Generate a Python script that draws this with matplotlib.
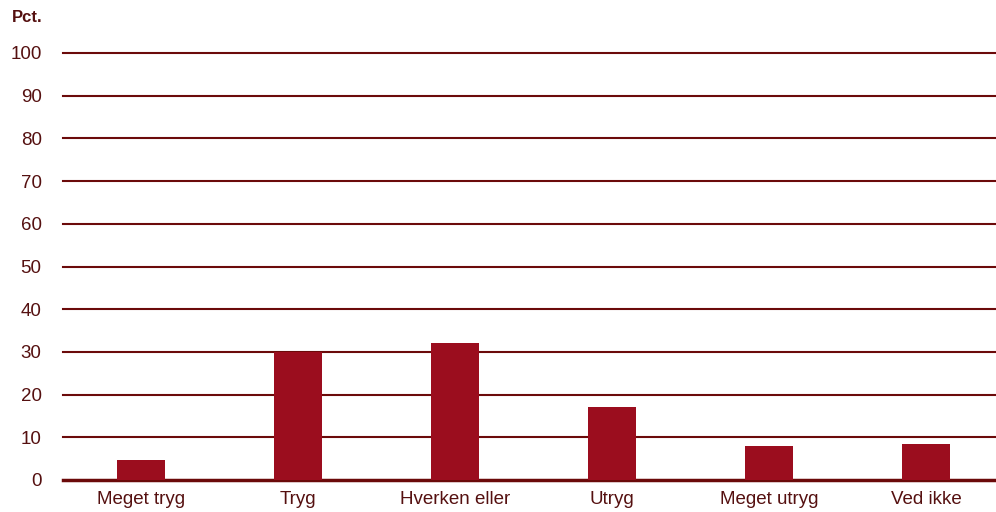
import matplotlib.pyplot as plt

categories = ['Meget tryg', 'Tryg', 'Hverken eller', 'Utryg', 'Meget utryg', 'Ved ikke']
values = [4.7, 30.0, 32.2, 17.2, 8.0, 8.4]
yticks = [0, 10, 20, 30, 40, 50, 60, 70, 80, 90, 100]

bar_color = '#9B0D1E'
grid_color = '#6B0A0A'
text_color = '#551010'

plt.rcParams['font.family'] = ['Liberation Sans', 'DejaVu Sans']

fig = plt.figure(figsize=(9.96, 5.12), dpi=100)
ax = fig.add_axes([62.5 / 996, 32 / 512, 942 / 996, (480 - 53) / 512])

for t in yticks:
    ax.axhline(t, color=grid_color, linewidth=1.5 if t else 2.5, zorder=1, clip_on=False)

ax.bar(range(len(categories)), values, width=0.31, color=bar_color, zorder=2)

ax.set_xlim(-0.5, len(categories) - 0.5)
ax.set_ylim(0, 100)
ax.set_yticks(yticks)
ax.set_xticks(range(len(categories)))
ax.set_xticklabels(categories)
ax.tick_params(axis='both', length=0, labelsize=13.5, labelcolor=text_color)
ax.tick_params(axis='y', pad=15)
ax.tick_params(axis='x', pad=8)
for s in ax.spines.values():
    s.set_visible(False)

fig.text(12 / 996, 1 - 17 / 512, 'Pct.', fontsize=12, fontweight='bold',
         color=text_color, va='center', ha='left')

fig.savefig('out.png', dpi=100)
